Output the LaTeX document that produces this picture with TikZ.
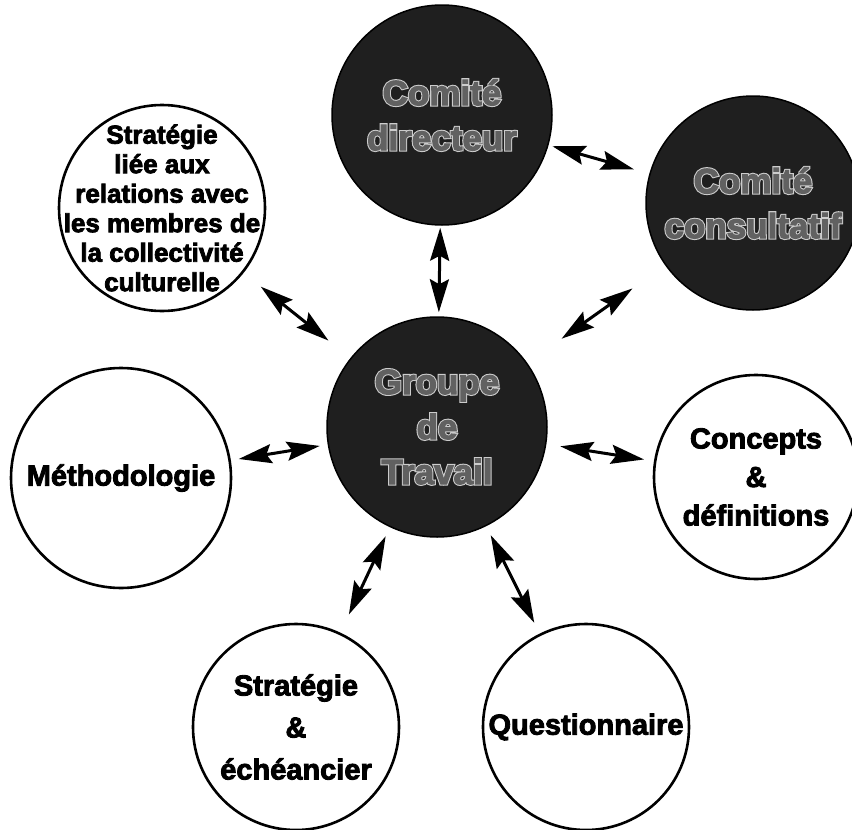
\documentclass[tikz,border=0pt]{standalone}
\usepackage{fontspec}
\setmainfont{Liberation Sans}
\newfontfamily\heavy{Liberation Sans Bold}[FakeBold=3]
\newfontfamily\heavyout{Liberation Sans Bold}[FakeBold=9]
\usetikzlibrary{arrows.meta,calc}
\tikzset{
  whitecirc/.style={circle, draw=black, line width=2.6pt, fill=white, inner sep=0pt},
  darkcirc/.style={circle, draw=black, line width=1.5pt, fill=black!88, inner sep=0pt},
  lbl/.style={font=\heavy\fontsize{29}{40}\selectfont, align=center, text=black, inner sep=0pt},
  darkout/.style={font=\heavyout\fontsize{35}{45}\selectfont, align=center, text=black!20, inner sep=0pt},
  darkin/.style={font=\heavy\fontsize{35}{45}\selectfont, align=center, text=black!62, inner sep=0pt},
  dbl/.style={line width=3pt, {Stealth[length=33pt,width=19pt,inset=5pt]}-{Stealth[length=33pt,width=19pt,inset=5pt]}}
}
\begin{document}
\begin{tikzpicture}[x=1pt,y=-1pt]
\useasboundingbox (0,0) rectangle (852,830);
\clip (0,0) rectangle (852,830);
\fill[white] (0,0) rectangle (852,830);
% circles
\node[darkcirc, minimum size=220pt] (dir) at (442,115) {};
\node[darkcirc, minimum size=214pt] (cons) at (753,203) {};
\node[darkcirc, minimum size=220pt] (grp) at (437,427) {};
\node[whitecirc, minimum size=206pt] (strat) at (162,208) {};
\node[whitecirc, minimum size=220pt] (meth) at (121,478) {};
\node[whitecirc, minimum size=204pt] (conc) at (756,477) {};
\node[whitecirc, minimum size=206pt] (se) at (296,727) {};
\node[whitecirc, minimum size=206pt] (q) at (586,727) {};
% dark labels (outlined)
\node[darkout] at (dir) {Comité\\directeur};
\node[darkin]  at (dir) {Comité\\directeur};
\node[darkout] at (cons) {Comité\\consultatif};
\node[darkin]  at (cons) {Comité\\consultatif};
\node[darkout] at (grp) {Groupe\\de\\Travail};
\node[darkin]  at (grp) {Groupe\\de\\Travail};
% white labels
\node[lbl, font=\heavy\fontsize{26}{29.5}\selectfont] (stratT) at (strat) {Stratégie\\liée aux\\relations avec\\les membres de\\la collectivité\\culturelle};
\node[lbl] (methT) at (meth) {Méthodologie};
\node[lbl, font=\heavy\fontsize{29}{38.5}\selectfont] (concT) at (conc) {Concepts\\\&\\définitions};
\node[lbl, font=\heavy\fontsize{29}{42}\selectfont] (seT) at (se) {Stratégie\\\&\\échéancier};
\node[lbl] (qT) at (q) {Questionnaire};
% connectors
\draw[dbl, shorten <=2pt, shorten >=4pt] (dir) -- (grp);
\draw[dbl, shorten <=4pt, shorten >=16pt] (dir) -- (cons);
\draw[dbl, shorten <=22pt, shorten >=28pt] (strat) -- (grp);
\draw[dbl, shorten <=40pt, shorten >=42pt] (cons) -- (grp);
\draw[dbl, shorten <=8pt, shorten >=8pt] (meth) -- (grp);
\draw[dbl, shorten <=10pt, shorten >=14pt] (conc) -- (grp);
\draw[dbl, shorten <=10pt, shorten >=20pt] (grp) -- (se);
\draw[dbl, shorten <=10pt, shorten >=12pt] (grp) -- (q);
\end{tikzpicture}
\end{document}
